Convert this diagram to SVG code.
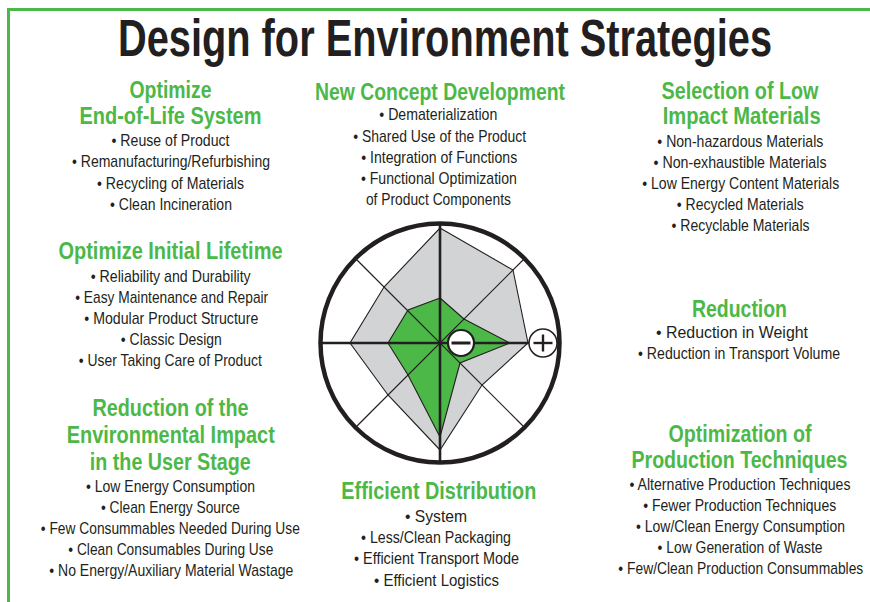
<svg xmlns="http://www.w3.org/2000/svg" width="870" height="602" viewBox="0 0 870 602">
<style>
.t{font-family:"Liberation Sans Narrow","Liberation Sans",Arial,sans-serif;font-weight:bold;font-size:51px;fill:#231f20;text-anchor:middle}
.h{font-family:"Liberation Sans Narrow","Liberation Sans",Arial,sans-serif;font-weight:bold;font-size:23.5px;fill:#4cb848;text-anchor:middle}
.b{font-family:"Liberation Sans Narrow","Liberation Sans",Arial,sans-serif;font-size:17px;fill:#231f20;text-anchor:middle}
.frame{stroke:#4cb848;stroke-width:3;fill:none}
.thin{stroke:#231f20;stroke-width:1.2;fill:none}
.axis{stroke:#231f20;stroke-width:2.6;fill:none}
</style>
<rect width="870" height="602" fill="#ffffff"/>
<path class="frame" d="M870,9.5 H8.5 V602"/>
<text class="t" x="445" y="56" textLength="654" lengthAdjust="spacingAndGlyphs">Design for Environment Strategies</text>

<g id="end-of-life">
<text class="h" x="170.5" y="98" textLength="82" lengthAdjust="spacingAndGlyphs">Optimize</text>
<text class="h" x="170.5" y="124" textLength="182" lengthAdjust="spacingAndGlyphs">End-of-Life System</text>
<text class="b" x="170.5" y="146" textLength="118" lengthAdjust="spacingAndGlyphs">• Reuse of Product</text>
<text class="b" x="171" y="167" textLength="198" lengthAdjust="spacingAndGlyphs">• Remanufacturing/Refurbishing</text>
<text class="b" x="170.5" y="188.5" textLength="147" lengthAdjust="spacingAndGlyphs">• Recycling of Materials</text>
<text class="b" x="171" y="209.5" textLength="122" lengthAdjust="spacingAndGlyphs">• Clean Incineration</text>
</g>

<g id="initial-lifetime">
<text class="h" x="170.5" y="259" textLength="224" lengthAdjust="spacingAndGlyphs">Optimize Initial Lifetime</text>
<text class="b" x="170.7" y="281.5" textLength="160" lengthAdjust="spacingAndGlyphs">• Reliability and Durability</text>
<text class="b" x="171.7" y="302.7" textLength="193" lengthAdjust="spacingAndGlyphs">• Easy Maintenance and Repair</text>
<text class="b" x="171.3" y="324" textLength="174" lengthAdjust="spacingAndGlyphs">• Modular Product Structure</text>
<text class="b" x="171.3" y="345" textLength="101" lengthAdjust="spacingAndGlyphs">• Classic Design</text>
<text class="b" x="170.3" y="366" textLength="183" lengthAdjust="spacingAndGlyphs">• User Taking Care of Product</text>
</g>

<g id="user-stage">
<text class="h" x="170.5" y="416" textLength="156" lengthAdjust="spacingAndGlyphs">Reduction of the</text>
<text class="h" x="170.8" y="443" textLength="208" lengthAdjust="spacingAndGlyphs">Environmental Impact</text>
<text class="h" x="170.3" y="470" textLength="161" lengthAdjust="spacingAndGlyphs">in the User Stage</text>
<text class="b" x="170.5" y="491.7" textLength="169" lengthAdjust="spacingAndGlyphs">• Low Energy Consumption</text>
<text class="b" x="170.5" y="512.5" textLength="139" lengthAdjust="spacingAndGlyphs">• Clean Energy Source</text>
<text class="b" x="170.3" y="533.5" textLength="259" lengthAdjust="spacingAndGlyphs">• Few Consummables Needed During Use</text>
<text class="b" x="170.8" y="555" textLength="205" lengthAdjust="spacingAndGlyphs">• Clean Consumables During Use</text>
<text class="b" x="171.3" y="576" textLength="244" lengthAdjust="spacingAndGlyphs">• No Energy/Auxiliary Material Wastage</text>
</g>

<g id="new-concept">
<text class="h" x="440" y="100" textLength="250" lengthAdjust="spacingAndGlyphs">New Concept Development</text>
<text class="b" x="438.3" y="120" textLength="118" lengthAdjust="spacingAndGlyphs">• Dematerialization</text>
<text class="b" x="439.7" y="141.7" textLength="173" lengthAdjust="spacingAndGlyphs">• Shared Use of the Product</text>
<text class="b" x="439.2" y="162.5" textLength="156" lengthAdjust="spacingAndGlyphs">• Integration of Functions</text>
<text class="b" x="438.9" y="183.5" textLength="156" lengthAdjust="spacingAndGlyphs">• Functional Optimization</text>
<text class="b" x="438.4" y="204.5" textLength="145" lengthAdjust="spacingAndGlyphs">of Product Components</text>
</g>

<g id="low-impact-materials">
<text class="h" x="740" y="99.3" textLength="157" lengthAdjust="spacingAndGlyphs">Selection of Low</text>
<text class="h" x="741.7" y="124.3" textLength="158" lengthAdjust="spacingAndGlyphs">Impact Materials</text>
<text class="b" x="740.3" y="147.3" textLength="166" lengthAdjust="spacingAndGlyphs">• Non-hazardous Materials</text>
<text class="b" x="740" y="168.3" textLength="173" lengthAdjust="spacingAndGlyphs">• Non-exhaustible Materials</text>
<text class="b" x="740.7" y="189.3" textLength="197" lengthAdjust="spacingAndGlyphs">• Low Energy Content Materials</text>
<text class="b" x="740.3" y="210.2" textLength="127" lengthAdjust="spacingAndGlyphs">• Recycled Materials</text>
<text class="b" x="740.5" y="231" textLength="138" lengthAdjust="spacingAndGlyphs">• Recyclable Materials</text>
</g>

<g id="reduction">
<text class="h" x="739.5" y="317" textLength="95" lengthAdjust="spacingAndGlyphs">Reduction</text>
<text class="b" x="732" y="338" textLength="152" lengthAdjust="spacingAndGlyphs">• Reduction in Weight</text>
<text class="b" x="739" y="359" textLength="202" lengthAdjust="spacingAndGlyphs">• Reduction in Transport Volume</text>
</g>

<g id="production">
<text class="h" x="740" y="441.7" textLength="143" lengthAdjust="spacingAndGlyphs">Optimization of</text>
<text class="h" x="739.5" y="468.3" textLength="216" lengthAdjust="spacingAndGlyphs">Production Techniques</text>
<text class="b" x="740" y="490" textLength="221" lengthAdjust="spacingAndGlyphs">• Alternative Production Techniques</text>
<text class="b" x="739.7" y="511" textLength="193" lengthAdjust="spacingAndGlyphs">• Fewer Production Techniques</text>
<text class="b" x="740.5" y="532.3" textLength="209" lengthAdjust="spacingAndGlyphs">• Low/Clean Energy Consumption</text>
<text class="b" x="740" y="552.8" textLength="165" lengthAdjust="spacingAndGlyphs">• Low Generation of Waste</text>
<text class="b" x="740.8" y="574" textLength="245" lengthAdjust="spacingAndGlyphs">• Few/Clean Production Consummables</text>
</g>

<g id="distribution">
<text class="h" x="438.8" y="499" textLength="195" lengthAdjust="spacingAndGlyphs">Efficient Distribution</text>
<text class="b" x="436" y="522" textLength="62" lengthAdjust="spacingAndGlyphs">• System</text>
<text class="b" x="436" y="543" textLength="150" lengthAdjust="spacingAndGlyphs">• Less/Clean Packaging</text>
<text class="b" x="436.5" y="564" textLength="165" lengthAdjust="spacingAndGlyphs">• Efficient Transport Mode</text>
<text class="b" x="436.5" y="585.5" textLength="125" lengthAdjust="spacingAndGlyphs">• Efficient Logistics</text>
</g>

<g id="spider-chart">
<circle cx="440" cy="343" r="119.5" fill="#ffffff"/>
<polygon points="440,228 513,270 528,343 482,385 440,450 388,395 350,343 384,287" fill="#d1d3d4" stroke="#231f20" stroke-width="1.1"/>
<polygon points="440,298 408,310 388,343 408,375 440,437 460,363 510,343 464,319" fill="#4cb848" stroke="#231f20" stroke-width="1.1"/>
<line class="thin" x1="355.5" y1="258.5" x2="524.5" y2="427.5"/>
<line class="thin" x1="355.5" y1="427.5" x2="524.5" y2="258.5"/>
<line class="axis" x1="320.5" y1="343" x2="559.5" y2="343"/>
<line class="axis" x1="440" y1="223.5" x2="440" y2="462.5"/>
<circle cx="440" cy="343" r="119.5" fill="none" stroke="#231f20" stroke-width="4.5"/>
<circle cx="461" cy="343" r="13" fill="#ffffff" stroke="#231f20" stroke-width="2.2"/>
<line x1="451.5" y1="343" x2="470.5" y2="343" stroke="#231f20" stroke-width="3"/>
<circle cx="543" cy="343" r="14" fill="#ffffff" stroke="#231f20" stroke-width="1.5"/>
<line x1="533.5" y1="343" x2="552.5" y2="343" stroke="#231f20" stroke-width="2.4"/>
<line x1="543" y1="334.5" x2="543" y2="351.5" stroke="#231f20" stroke-width="2.4"/>
</g>
</svg>
